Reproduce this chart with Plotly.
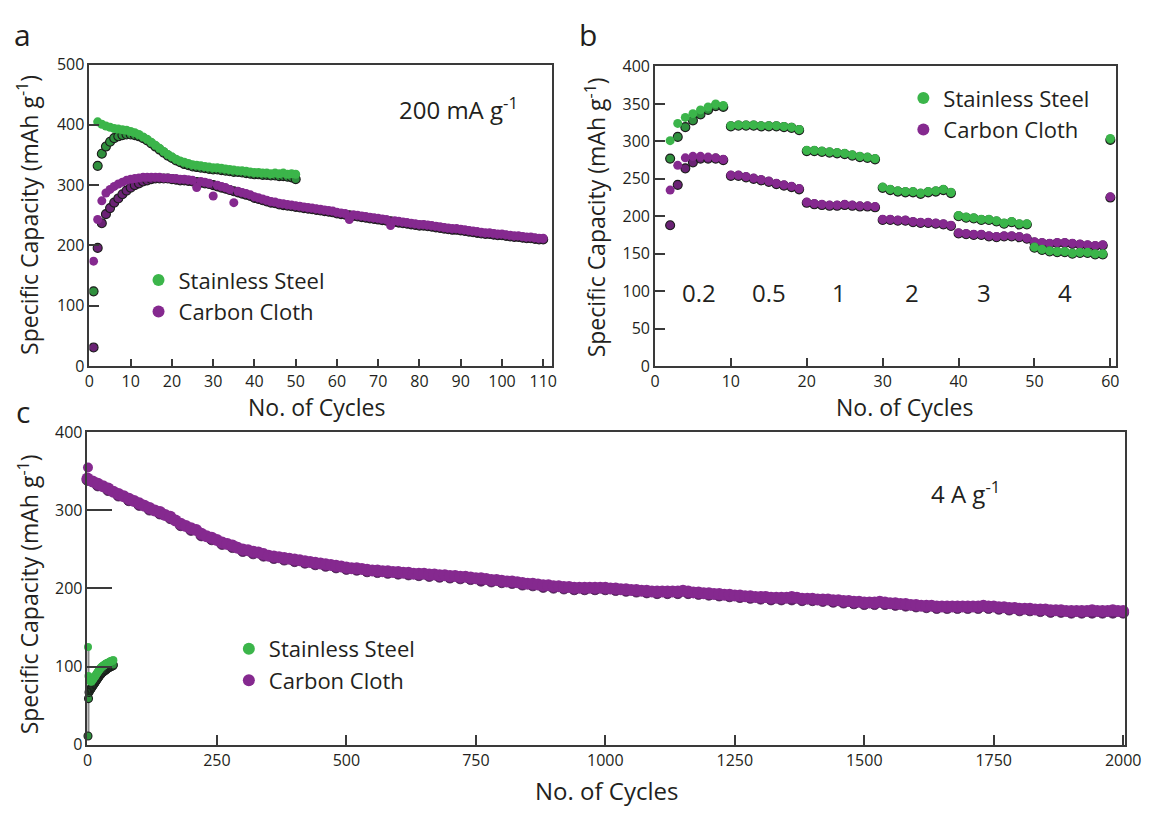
import plotly.graph_objects as go

W, H = 1155, 815
GREEN = "#3bb54a"
GREEN_DARK = "#2f8f3d"
PURPLE = "#85298f"
PURPLE_DARK = "#6a2274"
EDGE = "#1c1c1c"
TXT = "#231f20"
FONT = "Open Sans"

# ---------------- Panel a : 200 mA g-1 ----------------
a_ss_dis_cycles = list(range(1, 51))
a_ss_dis = [124, 332, 352, 364, 372, 378, 381, 383, 384, 384,
            383, 381, 378, 374, 369, 364, 359, 354, 349, 345,
            341, 338, 335, 333, 331, 330, 329, 328, 327, 326,
            326, 325, 324, 323, 322, 322, 321, 320, 319, 318,
            318, 317, 317, 316, 316, 315, 315, 314, 313, 310]
a_ss_chg_cycles = list(range(2, 51))
a_ss_chg = [405, 401, 398, 396, 394, 393, 392, 391, 389, 387,
            384, 380, 376, 371, 366, 361, 356, 351, 347, 343,
            340, 338, 336, 334, 333, 332, 331, 330, 329, 329,
            328, 327, 326, 325, 324, 324, 323, 322, 321, 321,
            320, 320, 319, 320, 319, 320, 318, 319, 318]
a_cc_cycles = list(range(1, 111))
a_cc_chg = [174, 243, 274, 287, 293, 298, 302, 305, 308, 310,
            311, 312, 313, 313, 313, 313, 313, 312, 312, 311,
            311, 310, 310, 309, 308, 296, 306, 305, 303, 282,
            300, 298, 296, 293, 271, 290, 288, 286, 284, 281,
            279, 277, 275, 273, 272, 270, 269, 268, 267, 266,
            265, 264, 263, 262, 261, 260, 259, 258, 257, 255,
            254, 253, 243, 251, 250, 249, 248, 247, 246, 245,
            244, 243, 233, 241, 240, 239, 238, 237, 236, 235,
            235, 234, 233, 232, 231, 230, 229, 228, 228, 227,
            226, 225, 224, 223, 222, 221, 221, 220, 219, 219,
            218, 217, 216, 216, 215, 214, 214, 213, 212, 212]
a_cc_dis = [31, 196, 237, 252, 262, 271, 278, 285, 291, 296,
            300, 303, 306, 308, 310, 311, 311, 311, 311, 310,
            309, 308, 308, 307, 306, 305, 304, 303, 302, 300,
            298, 296, 294, 292, 290, 288, 286, 284, 282, 279,
            277, 275, 273, 271, 270, 268, 267, 266, 265, 264,
            263, 262, 261, 260, 259, 258, 257, 256, 255, 253,
            252, 251, 250, 249, 248, 247, 246, 245, 244, 243,
            242, 241, 240, 239, 238, 237, 236, 235, 234, 233,
            233, 232, 231, 230, 229, 228, 227, 226, 226, 225,
            224, 223, 222, 221, 220, 219, 219, 218, 217, 217,
            216, 215, 214, 214, 213, 212, 212, 211, 210, 210]

# ---------------- Panel b : rate capability ----------------
b_cycles = list(range(2, 61))
b_ss_chg = [301, 324, 332, 337, 342, 346, 350, 348,
            321, 322, 322, 322, 321, 321, 321, 320, 319, 316,
            288, 288, 287, 286, 285, 284, 282, 280, 279, 277,
            239, 236, 234, 233, 233, 231, 233, 234, 236, 232,
            201, 199, 198, 196, 196, 194, 191, 193, 190, 190,
            159, 156, 154, 153, 153, 151, 152, 152, 150, 150,
            304]
b_ss_dis = [277, 306, 319, 328, 336, 342, 347, 346,
            320, 321, 321, 321, 320, 320, 320, 319, 318, 315,
            287, 287, 286, 285, 284, 283, 281, 279, 278, 276,
            238, 235, 233, 232, 232, 230, 232, 233, 235, 231,
            200, 198, 197, 195, 195, 193, 190, 192, 189, 189,
            158, 155, 153, 152, 152, 150, 151, 151, 149, 149,
            302]
b_cc_chg = [235, 268, 278, 280, 280, 279, 278, 276,
            255, 255, 253, 251, 249, 247, 244, 242, 240, 237,
            219, 217, 216, 215, 215, 216, 215, 214, 214, 213,
            196, 196, 195, 195, 193, 192, 192, 191, 190, 188,
            178, 177, 176, 176, 174, 173, 174, 174, 173, 171,
            166, 165, 164, 165, 165, 164, 163, 162, 161, 162,
            226]
b_cc_dis = [188, 242, 264, 272, 277, 277, 277, 275,
            254, 254, 252, 250, 248, 246, 243, 241, 239, 236,
            218, 216, 215, 214, 214, 215, 214, 213, 213, 212,
            195, 195, 194, 194, 192, 191, 191, 190, 189, 187,
            177, 176, 175, 175, 173, 172, 173, 173, 172, 170,
            165, 164, 163, 164, 164, 163, 162, 161, 160, 161,
            225]
b_rate_labels = ["0.2", "0.5", "1", "2", "3", "4"]

# ---------------- Panel c : 4 A g-1 long cycling ----------------
c_ss_cycles = list(range(1, 51))
c_ss_chg = [125, 88, 85, 83, 82, 81, 81, 81, 82, 83,
            84, 85, 86, 87, 88, 89, 90, 91, 92, 93,
            94, 95, 96, 97, 98, 98, 99, 100, 100, 101,
            101, 102, 102, 103, 103, 104, 104, 104, 105, 105,
            105, 106, 106, 106, 107, 107, 107, 107, 108, 108]
c_ss_dis = [11, 59, 67, 69, 70, 71, 72, 73, 74, 75,
            76, 77, 78, 79, 80, 81, 82, 83, 84, 85,
            86, 87, 88, 89, 90, 90, 91, 92, 93, 93,
            94, 94, 95, 95, 96, 96, 97, 97, 98, 98,
            99, 99, 99, 100, 100, 100, 101, 101, 101, 102]
c_cc_first_cycle = [1]
c_cc_first = [355]
c_cc_chg_cycles = list(range(0, 2001, 10))
c_cc_chg = [341, 337, 334, 331, 328, 324, 321, 318, 315, 312, 309,
            306, 303, 300, 298, 294, 292, 287, 283, 280, 277,
            275, 270, 267, 265, 262, 259, 257, 255, 252, 250,
            249, 247, 246, 244, 242, 241, 240, 239, 238, 237,
            236, 235, 234, 233, 232, 231, 230, 229, 228, 227,
            226, 226, 225, 224, 223, 223, 222, 222, 221, 221,
            220, 220, 219, 219, 219, 218, 218, 217, 217, 216,
            216, 215, 215, 214, 213, 213, 212, 211, 211, 210,
            209, 209, 208, 207, 206, 206, 205, 204, 204, 203,
            203, 202, 202, 201, 201, 201, 201, 201, 201, 201,
            200, 200, 199, 199, 198, 198, 197, 197, 196, 196,
            196, 196, 196, 196, 197, 196, 195, 195, 194, 194,
            193, 193, 192, 192, 191, 191, 190, 190, 189, 189,
            189, 188, 188, 188, 188, 189, 188, 187, 187, 187,
            186, 186, 186, 185, 185, 184, 184, 183, 183, 182,
            182, 182, 183, 182, 181, 181, 180, 180, 179, 179,
            178, 178, 178, 177, 177, 177, 177, 177, 177, 177,
            177, 177, 178, 177, 177, 176, 176, 175, 175, 174,
            174, 174, 173, 173, 173, 172, 172, 172, 171, 171,
            171, 171, 171, 172, 171, 171, 171, 172, 171, 171]
c_cc_dis_cycles = list(range(0, 2001, 20))
c_cc_dis = [339, 332, 326, 319, 313, 307, 301, 296, 290, 281,
            275, 268, 263, 257, 253, 248, 245, 242, 239, 237,
            235, 233, 231, 229, 227, 225, 224, 222, 221, 220,
            219, 218, 217, 216, 215, 214, 213, 212, 210, 209,
            208, 207, 205, 204, 202, 201, 200, 199, 199, 199,
            199, 198, 197, 196, 195, 194, 194, 194, 194, 193,
            192, 191, 190, 189, 188, 187, 186, 186, 186, 185,
            185, 184, 183, 182, 181, 180, 180, 180, 179, 178,
            177, 176, 175, 175, 175, 175, 175, 175, 174, 173,
            172, 172, 171, 170, 170, 169, 169, 169, 169, 169,
            169]

fig = go.Figure()


def add_pair(xa, ya, x_dis, y_dis, x_chg, y_chg, size, green, leg, name, clip=True,
             dsize=None, edge=EDGE, ewidth=1.1):
    fill = GREEN_DARK if green else PURPLE_DARK
    col = GREEN if green else PURPLE
    fig.add_trace(go.Scatter(
        x=x_dis, y=y_dis, mode="markers", xaxis=xa, yaxis=ya, showlegend=False,
        cliponaxis=clip, hoverinfo="skip",
        marker=dict(size=dsize or size, color=fill, line=dict(color=edge, width=ewidth))))
    fig.add_trace(go.Scatter(
        x=x_chg, y=y_chg, mode="markers", xaxis=xa, yaxis=ya, name=name,
        showlegend=True, legend=leg, cliponaxis=clip,
        marker=dict(size=size, color=col, line=dict(width=0))))


# panel a
add_pair("x", "y", a_cc_cycles, a_cc_dis, a_cc_cycles, a_cc_chg, 9, False, "legend", "Carbon Cloth")
add_pair("x", "y", a_ss_dis_cycles, a_ss_dis, a_ss_chg_cycles, a_ss_chg, 9, True, "legend", "Stainless Steel")
# panel b
add_pair("x2", "y2", b_cycles, b_cc_dis, b_cycles, b_cc_chg, 9, False, "legend2", "Carbon Cloth", clip=False)
add_pair("x2", "y2", b_cycles, b_ss_dis, b_cycles, b_ss_chg, 9, True, "legend2", "Stainless Steel", clip=False)
# panel c
fig.add_trace(go.Scatter(
    x=[c_ss_cycles[0], c_ss_cycles[0]], y=[c_ss_chg[0], c_ss_dis[0]], mode="lines",
    xaxis="x3", yaxis="y3", showlegend=False, cliponaxis=False, hoverinfo="skip",
    line=dict(color="#8a8a8a", width=3)))
add_pair("x3", "y3", c_cc_dis_cycles, c_cc_dis, c_cc_chg_cycles, c_cc_chg, 12, False, "legend3",
         "Carbon Cloth", clip=False, dsize=11, edge="#3d1645", ewidth=0.8)
fig.add_trace(go.Scatter(
    x=c_cc_first_cycle, y=c_cc_first, mode="markers", xaxis="x3", yaxis="y3",
    showlegend=False, cliponaxis=False, marker=dict(size=10, color=PURPLE)))
add_pair("x3", "y3", c_ss_cycles, c_ss_dis, c_ss_cycles, c_ss_chg, 8, True, "legend3",
         "Stainless Steel", clip=False)

axis_common = dict(showline=True, mirror=True, linecolor="#3a3a3a", linewidth=1.6,
                   ticks="inside", tickcolor="#3a3a3a", tickwidth=1.6,
                   showgrid=False, zeroline=False,
                   tickfont=dict(family=FONT, size=16, color=TXT))

leg_common = dict(xanchor="left", yanchor="top", bgcolor="rgba(0,0,0,0)",
                  font=dict(family=FONT, size=22, color=TXT),
                  traceorder="reversed", itemsizing="constant", tracegroupgap=0)

fig.update_layout(
    width=W, height=H,
    margin=dict(l=0, r=0, t=0, b=0),
    paper_bgcolor="white", plot_bgcolor="white",
    font=dict(family=FONT, color=TXT),
    xaxis=dict(axis_common, domain=[86 / W, 557 / W], range=[0, 112.1],
               tickvals=list(range(0, 111, 10)), ticklen=7, anchor="y"),
    yaxis=dict(axis_common, domain=[(H - 365) / H, (H - 55) / H], range=[0, 500],
               dtick=100, ticklen=10, anchor="x"),
    xaxis2=dict(axis_common, domain=[662 / W, 1132 / W], range=[0, 60.8],
                tickvals=list(range(0, 61, 10)), ticklen=8, anchor="y2"),
    yaxis2=dict(axis_common, domain=[(H - 365) / H, (H - 57) / H], range=[0, 400],
                dtick=50, ticklen=10, anchor="x2"),
    xaxis3=dict(axis_common, domain=[84 / W, 1141 / W], range=[0, 2004],
                tickvals=list(range(0, 2001, 250)), ticklen=10, anchor="y3"),
    yaxis3=dict(axis_common, domain=[(H - 754) / H, (H - 433) / H], range=[0, 400],
                dtick=100, ticklen=25, anchor="x3"),
    legend=dict(leg_common, x=136 / W, y=1 - 255 / H),
    legend2=dict(leg_common, x=915 / W, y=1 - 68 / H),
    legend3=dict(leg_common, x=228 / W, y=1 - 634 / H),
)


def ann(text, px, py, size=20, angle=0):
    fig.add_annotation(text=text, x=px / W, y=1 - py / H, xref="paper", yref="paper",
                       showarrow=False, textangle=angle, xanchor="center", yanchor="middle",
                       font=dict(family=FONT, size=size, color=TXT))


# panel letters
ann("a", 18, 24, size=30)
ann("b", 594, 24, size=30)
ann("c", 18, 412, size=30)
# axis titles
ytitle = "Specific Capacity (mAh g<sup>-1</sup>)"
ann(ytitle, 24, 210, size=23, angle=-90)
ann(ytitle, 602, 212, size=23, angle=-90)
ann(ytitle, 24, 600, size=23, angle=-90)
ann("No. of Cycles", 317, 407, size=23)
ann("No. of Cycles", 916, 407, size=23)
ann("No. of Cycles", 613, 801, size=24)
# conditions
ann("200 mA g<sup>-1</sup>", 462, 100, size=24)
ann("4 A g<sup>-1</sup>", 978, 495, size=24)
for lbl, px in zip(b_rate_labels, [707, 778, 849, 924, 997, 1080]):
    ann(lbl, px, 289, size=24)

fig.write_html("out.html")
